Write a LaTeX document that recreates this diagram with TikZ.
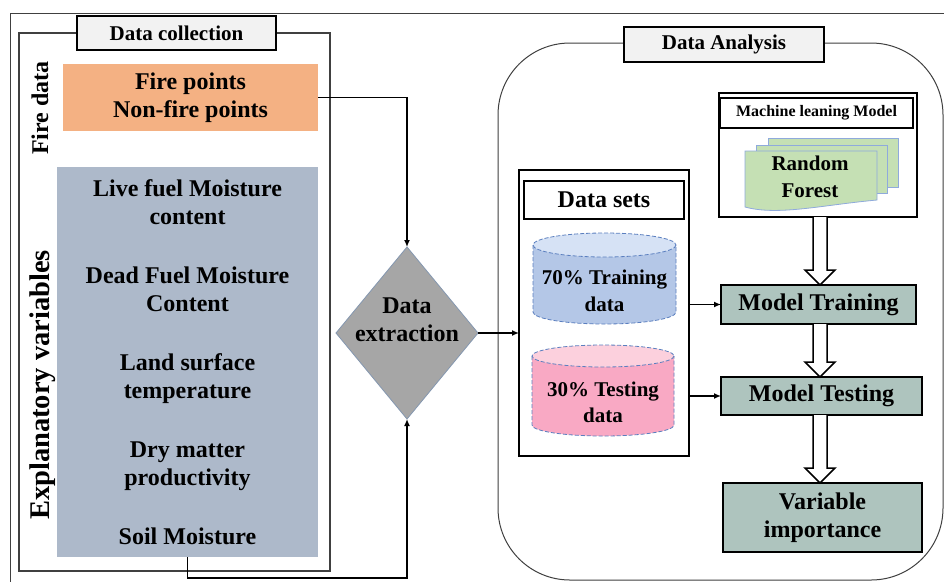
\documentclass[tikz,border=0pt]{standalone}
\usepackage{fontspec}
\setmainfont{Liberation Serif}
\usetikzlibrary{arrows.meta,shapes.geometric,calc}
\definecolor{orangebox}{HTML}{F4B183}
\definecolor{bluegray}{HTML}{ADB9CA}
\definecolor{diamondgray}{HTML}{A6A6A6}
\definecolor{diamondline}{HTML}{8497B0}
\definecolor{modelgreen}{HTML}{AEC4BE}
\definecolor{rfgreen}{HTML}{C5E0B4}
\definecolor{rfborder}{HTML}{8FAADC}
\definecolor{cylblue}{HTML}{B4C7E7}
\definecolor{cylbluetop}{HTML}{D6E2F5}
\definecolor{cylpink}{HTML}{F9A9C4}
\definecolor{cylpinktop}{HTML}{FCD0DD}
\definecolor{cylborder}{HTML}{5B7FBF}
\definecolor{labelfill}{HTML}{F2F2F2}
\definecolor{framegray}{HTML}{404040}
\newcommand\fs[2]{\fontsize{#1}{#2}\selectfont}
\newcommand\hollowarrow[2]{%
  \path[harrow] let \p1=(#1), \p2=(#2) in
    (\x1-7pt,\y1) -- (\x1-7pt,\y2+15pt) -- (\x1-15pt,\y2+15pt) -- (\x1,\y2)
    -- (\x1+15pt,\y2+15pt) -- (\x1+7pt,\y2+15pt) -- (\x1+7pt,\y1);}
\begin{document}
\begin{tikzpicture}[x=1pt,y=-1pt,
  box/.style={rectangle, inner sep=0pt, outer sep=0pt, font=\bfseries\fs{24}{28}, align=center},
  labelbox/.style={box, draw=black, line width=1.5pt, fill=labelfill, font=\bfseries\fs{21}{25}},
  plainbox/.style={box, draw=black, line width=1.5pt, fill=white},
  modelbox/.style={box, draw=black, line width=1.5pt, fill=modelgreen},
  frame/.style={rectangle, inner sep=0pt, outer sep=0pt, draw=framegray},
  conn/.style={draw=black, line width=1.4pt, -{Latex[length=7pt,width=6pt]}},
  harrow/.style={draw=black, line width=1.5pt, fill=white},
  cylline/.style={draw=cylborder, line width=0.8pt, dash pattern=on 4pt off 2pt},
  sheet/.style={fill=rfgreen, draw=rfborder, line width=0.8pt},
  txt/.style={inner sep=0pt, font=\bfseries\fs{24}{28}, align=center},
]
\useasboundingbox (0,0) rectangle (944,582);
\fill[white] (0,0) rectangle (944,582);
% outer frame
\draw[framegray, line width=1pt] (944,13) -- (10,13) -- (10,582);

% ---------- Data collection ----------
\node[frame, line width=1.5pt, minimum width=311pt, minimum height=538pt] (dcframe) at (174.5,302) {};
\node[labelbox, minimum width=199pt, minimum height=34pt] (dclabel) at (176.5,33) {Data collection};
\node[box, fill=orangebox, minimum width=255pt, minimum height=67pt] (fire) at (190.5,97.5) {Fire points\\Non-fire points};
\node[box, fill=bluegray, minimum width=261pt, minimum height=390pt] (expl) at (187.5,362)
  {Live fuel Moisture\\content\\[31pt]Dead Fuel Moisture\\Content\\[31pt]Land surface\\temperature\\[31pt]Dry matter\\productivity\\[31pt]Soil Moisture};
\node[txt, rotate=90] (firelab) at (40,108) {Fire data};
\node[txt, rotate=90, font=\bfseries\fs{28.5}{32}] (expllab) at (43,385) {Explanatory variables};

% ---------- Data extraction ----------
\node[diamond, inner sep=0pt, outer sep=0pt, minimum width=142pt, minimum height=172pt,
      fill=diamondgray, draw=diamondline, line width=0.8pt] (dx) at (407,333) {};
\node[txt] (dxt) at (407,320) {Data\\extraction};

% ---------- Data Analysis ----------
\node[frame, line width=1pt, rounded corners=72pt, minimum width=445pt, minimum height=537pt] (daframe) at (720.5,311.5) {};
\node[labelbox, minimum width=200pt, minimum height=35pt] (dalabel) at (724,44.5) {Data Analysis};

% Data sets
\node[plainbox, minimum width=170pt, minimum height=286pt] (ds) at (604,313) {};
\node[plainbox, minimum width=160pt, minimum height=38pt] (dstitle) at (604,200) {Data sets};
% blue cylinder
\path[fill=cylblue, cylline] (533,245) -- (533,312) arc[start angle=180, end angle=0, x radius=71.5, y radius=12] -- (676,245);
\path[fill=cylbluetop, cylline] (604.5,245) ellipse[x radius=71.5, y radius=12];
\node[txt, font=\bfseries\fs{21}{27}] (train) at (604.5,291) {70\% Training\\data};
% pink cylinder
\path[fill=cylpink, cylline] (532,356) -- (532,425) arc[start angle=180, end angle=0, x radius=71, y radius=11] -- (674,356);
\path[fill=cylpinktop, cylline] (603,356) ellipse[x radius=71, y radius=11];
\node[txt, font=\bfseries\fs{21}{26}] (test) at (603,402) {30\% Testing\\data};

% Machine learning model
\node[plainbox, minimum width=198pt, minimum height=124pt] (ml) at (818,155) {};
\node[plainbox, minimum width=193pt, minimum height=30pt, font=\bfseries\fs{16}{18}] (mltitle) at (816.5,113) {Machine leaning Model};
\path[sheet] (768,138) rectangle (898,187);
\path[sheet] (756,145) rectangle (887,193);
\path[sheet] (745,151) -- (877,151) -- (877,200) .. controls (822,205) and (778,216) .. (745,207) -- cycle;
\node[txt, font=\bfseries\fs{21}{27}] (rf) at (810,177) {Random\\Forest};

% model boxes
\node[modelbox, minimum width=195pt, minimum height=39pt] (mt) at (818.5,304.5) {Model Training};
\node[modelbox, minimum width=201pt, minimum height=38pt] (mtest) at (821.5,396) {Model Testing};
\node[modelbox, minimum width=199pt, minimum height=69pt] (vi) at (822.5,517.5) {Variable\\importance};

% ---------- connectors ----------
\draw[conn] (fire.east) -| (dx.north);
\draw[conn] (expl.south) -- ++(0,21) -| (dx.south);
\draw[conn] (dx.east) -- (dx.east -| ds.west);
\draw[conn] (ds.east |- mt.west) -- (mt.west);
\draw[conn] (ds.east |- mtest.west) -- (mtest.west);
\hollowarrow{$(ml.south)+(2,0)$}{mt.north}
\hollowarrow{$(mt.south)+(1.5,0)$}{mtest.north}
\hollowarrow{$(mtest.south)+(-1.5,0)$}{vi.north}
\end{tikzpicture}
\end{document}
